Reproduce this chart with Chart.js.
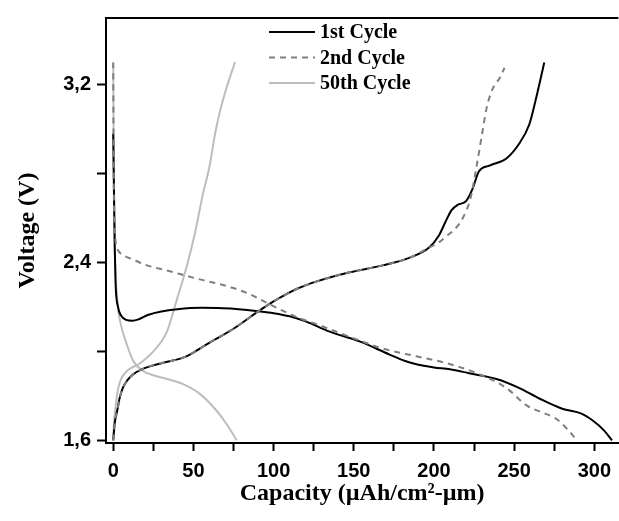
<!DOCTYPE html>
<html>
<head>
<meta charset="utf-8">
<script src="https://cdn.jsdelivr.net/npm/chart.js@4/dist/chart.umd.min.js"></script>
<style>
  html, body { margin: 0; padding: 0; background: #fff; }
  #wrap { width: 619px; height: 521px; }
</style>
</head>
<body>
<div id="wrap"><canvas id="chart" width="619" height="521"></canvas></div>
<script>
// capacity (uAh/cm2-um) and voltage (V)
const c1DisCap = [0, 0.5, 1, 1.5, 3, 5, 8, 12, 16, 22, 30, 40, 55, 65, 75, 91.5, 100, 110, 120, 135, 154, 172, 182, 189, 200, 210, 222, 239, 253, 266, 280, 292, 299, 306, 311];
const c1DisV = [2.98, 2.7, 2.45, 2.3, 2.2, 2.16, 2.142, 2.138, 2.145, 2.165, 2.18, 2.19, 2.196, 2.195, 2.192, 2.18, 2.172, 2.158, 2.135, 2.089, 2.044, 1.987, 1.957, 1.942, 1.928, 1.92, 1.902, 1.876, 1.836, 1.787, 1.742, 1.72, 1.689, 1.645, 1.6];
const c1ChgCap = [0, 1, 2.5, 4, 6, 9, 12.6, 18, 23, 33, 43.6, 50, 54, 65, 75, 90, 100, 106, 115, 127, 147.5, 168, 185, 197, 203, 207, 211, 215, 220, 224, 228, 234.6, 245, 253, 259.5, 263.8, 268.8];
const c1ChgV = [1.6, 1.68, 1.733, 1.79, 1.836, 1.872, 1.898, 1.92, 1.933, 1.952, 1.972, 1.995, 2.013, 2.06, 2.102, 2.178, 2.225, 2.25, 2.283, 2.315, 2.356, 2.387, 2.422, 2.467, 2.52, 2.58, 2.636, 2.66, 2.676, 2.73, 2.809, 2.836, 2.867, 2.933, 3.022, 3.142, 3.3];

const c2DisCap = [0, 0.3, 1.2, 3.2, 7, 12.6, 20, 33.5, 54, 65, 75, 85, 95, 106, 116, 127, 147, 168, 189, 208, 228, 245, 258, 268, 276, 284, 289];
const c2DisV = [3.3, 2.8, 2.52, 2.453, 2.43, 2.413, 2.39, 2.364, 2.324, 2.305, 2.285, 2.258, 2.222, 2.182, 2.15, 2.122, 2.067, 2.013, 1.978, 1.947, 1.898, 1.836, 1.756, 1.724, 1.698, 1.644, 1.6];
const c2ChgCap = [0, 1, 2.5, 4, 6, 9, 12.6, 18, 23, 33, 43.6, 50, 54, 65, 75, 90, 100, 106, 115, 127, 147.5, 168, 185, 197, 203, 208, 213, 218, 223, 226.5, 229.6, 232.7, 236.5, 241, 244];
const c2ChgV = [1.6, 1.68, 1.733, 1.79, 1.836, 1.872, 1.898, 1.92, 1.933, 1.952, 1.972, 1.995, 2.013, 2.06, 2.102, 2.178, 2.225, 2.25, 2.283, 2.315, 2.356, 2.387, 2.422, 2.467, 2.49, 2.52, 2.55, 2.6, 2.695, 2.83, 2.96, 3.09, 3.18, 3.23, 3.276];

const c50DisCap = [0, 0.3, 0.8, 2.5, 4.4, 8.5, 12.6, 18.8, 25, 33.5, 43.6, 54, 64.5, 71, 77];
const c50DisV = [3.3, 2.9, 2.533, 2.236, 2.133, 2.031, 1.956, 1.911, 1.893, 1.876, 1.853, 1.809, 1.733, 1.67, 1.6];
const c50ChgCap = [0, 0.5, 1.2, 2.5, 4.4, 8.5, 16.8, 25, 33.5, 39.8, 46, 51, 56, 60, 63.5, 66.6, 70.7, 76];
const c50ChgV = [1.6, 1.68, 1.733, 1.81, 1.867, 1.911, 1.947, 2.0, 2.089, 2.236, 2.387, 2.533, 2.711, 2.831, 2.978, 3.08, 3.187, 3.302];

const seriesNames = ["1st Cycle", "2nd Cycle", "50th Cycle"];
const xTickValues = [0, 25, 50, 75, 100, 125, 150, 175, 200, 225, 250, 275, 300];
const yTickValues = [1.6, 2.0, 2.4, 2.8, 3.2];
const yLabelValues = [1.6, 2.4, 3.2];

function pts(xs, ys) {
  return xs.map((x, i) => ({ x: x, y: ys[i] }));
}

const styles = [
  { borderColor: "#000000", borderWidth: 2, borderDash: [], order: 2 },
  { borderColor: "#7f7f7f", borderWidth: 2, borderDash: [6, 5], order: 1 },
  { borderColor: "#bdbdbd", borderWidth: 2, borderDash: [], order: 3 }
];

const curves = [
  [pts(c1DisCap, c1DisV), pts(c1ChgCap, c1ChgV)],
  [pts(c2DisCap, c2DisV), pts(c2ChgCap, c2ChgV)],
  [pts(c50DisCap, c50DisV), pts(c50ChgCap, c50ChgV)]
];

const datasets = [];
curves.forEach(function (pair, i) {
  pair.forEach(function (data, j) {
    datasets.push(Object.assign({
      label: seriesNames[i],
      inLegend: j === 0,
      data: data,
      pointRadius: 0,
      fill: false,
      cubicInterpolationMode: "monotone"
    }, styles[i]));
  });
});

const frameAndLegend = {
  id: "frameAndLegend",
  afterDraw(chart) {
    const ctx = chart.ctx;
    const a = chart.chartArea;
    ctx.save();
    ctx.strokeStyle = "#000";
    ctx.lineWidth = 2;
    ctx.beginPath();
    ctx.moveTo(a.left - 1, a.top);
    ctx.lineTo(a.right, a.top);
    ctx.stroke();

    ctx.font = "bold 20px 'Liberation Serif', 'Times New Roman', serif";
    ctx.textBaseline = "middle";
    ctx.textAlign = "left";
    let row = 0;
    chart.data.datasets.forEach(function (ds) {
      if (!ds.inLegend) return;
      const y = 32 + row * 25.5;
      ctx.strokeStyle = ds.borderColor;
      ctx.lineWidth = ds.borderWidth;
      ctx.setLineDash(ds.borderDash);
      ctx.beginPath();
      ctx.moveTo(269, y);
      ctx.lineTo(315, y);
      ctx.stroke();
      ctx.setLineDash([]);
      ctx.fillStyle = "#000";
      ctx.fillText(ds.label, 320, y + 1);
      row++;
    });
    ctx.restore();
  }
};

const tickFont = { family: "'Liberation Sans', Arial, sans-serif", size: 20, weight: "bold" };
const titleFont = { family: "'Liberation Serif', 'Times New Roman', serif", size: 24, weight: "bold" };

new Chart(document.getElementById("chart"), {
  type: "line",
  data: { datasets: datasets },
  options: {
    responsive: false,
    animation: false,
    layout: { padding: { top: 12, right: 0, left: 0, bottom: 0 } },
    plugins: { legend: { display: false }, tooltip: { enabled: false } },
    scales: {
      x: {
        type: "linear",
        min: -4.5,
        max: 315,
        afterFit: function (s) { s.height = 78; },
        afterBuildTicks: function (s) { s.ticks = xTickValues.map(v => ({ value: v })); },
        grid: { drawOnChartArea: false, drawTicks: true, tickLength: 8, tickColor: "#000", tickWidth: 2 },
        border: { display: true, color: "#000", width: 2 },
        ticks: {
          color: "#000",
          font: tickFont,
          padding: 8,
          maxRotation: 0,
          autoSkip: false,
          callback: v => (v % 50 === 0 ? String(v) : "")
        },
        title: {
          display: true,
          text: "Capacity (µAh/cm²-µm)",
          color: "#000",
          font: titleFont,
          padding: { top: 0, bottom: 13 }
        }
      },
      y: {
        min: 1.588,
        max: 3.5,
        afterFit: function (s) { s.width = 106; },
        afterBuildTicks: function (s) { s.ticks = yTickValues.map(v => ({ value: v })); },
        grid: { drawOnChartArea: false, drawTicks: true, tickLength: 9, tickColor: "#000", tickWidth: 2 },
        border: { display: true, color: "#000", width: 2 },
        ticks: {
          color: "#000",
          font: tickFont,
          padding: 6,
          autoSkip: false,
          callback: v => (yLabelValues.some(l => Math.abs(l - v) < 1e-6) ? v.toFixed(1).replace(".", ",") : "")
        },
        title: {
          display: true,
          text: "Voltage (V)",
          color: "#000",
          font: titleFont,
          padding: { top: 13, bottom: 0 }
        }
      }
    }
  },
  plugins: [frameAndLegend]
});
</script>
</body>
</html>
